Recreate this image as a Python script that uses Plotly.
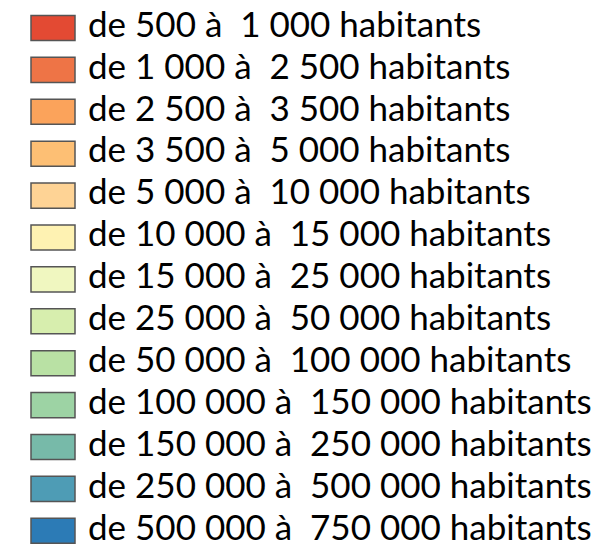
import plotly.graph_objects as go

labels = [
    "de 500 à\u00a0 1 000 habitants",
    "de 1 000 à\u00a0 2 500 habitants",
    "de 2 500 à\u00a0 3 500 habitants",
    "de 3 500 à\u00a0 5 000 habitants",
    "de 5 000 à\u00a0 10 000 habitants",
    "de 10 000 à\u00a0 15 000 habitants",
    "de 15 000 à\u00a0 25 000 habitants",
    "de 25 000 à\u00a0 50 000 habitants",
    "de 50 000 à\u00a0 100 000 habitants",
    "de 100 000 à\u00a0 150 000 habitants",
    "de 150 000 à\u00a0 250 000 habitants",
    "de 250 000 à\u00a0 500 000 habitants",
    "de 500 000 à\u00a0 750 000 habitants",
]
colors = [
    "#e34a33", "#ee7446", "#fba35b", "#fdbf74", "#fed395", "#fef2b2",
    "#f0f7c0", "#d7eeae", "#b9e1a4", "#9dd3a4", "#77baa9", "#4e9cb5", "#2c7bb6",
]
rows = list(range(len(labels)))

fig = go.Figure()
fig.add_trace(go.Bar(
    y=rows, x=[44] * len(rows), base=[23] * len(rows), orientation="h",
    width=0.6, marker=dict(color=colors, line=dict(color="#555555", width=1.5)),
    hoverinfo="skip", showlegend=False,
))
fig.add_trace(go.Scatter(
    y=rows, x=[80] * len(rows), mode="text", text=labels,
    textposition="middle right",
    textfont=dict(family="Lato", size=35, color="#000000"),
    hoverinfo="skip", showlegend=False,
    cliponaxis=False,
))
fig.update_layout(
    width=606, height=544, margin=dict(l=0, r=0, t=0, b=0),
    paper_bgcolor="white", plot_bgcolor="white",
    xaxis=dict(range=[0, 606], visible=False, fixedrange=True),
    yaxis=dict(range=[(544 - 20) / 41.9, -20 / 41.9], visible=False, fixedrange=True),
)
fig.write_html("out.html")
